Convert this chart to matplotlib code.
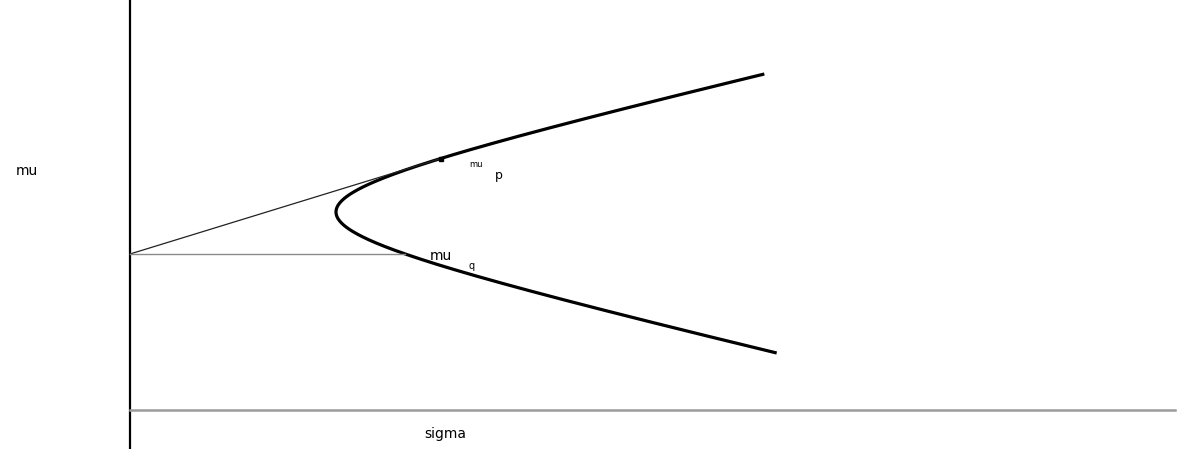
import numpy as np
import matplotlib.pyplot as plt

# minimum-variance frontier parameters: sigma^2 = s_min^2 + k * (mu - mu_min)^2
sigma_min = 2.06
mu_min = 1.98
k = 18.9
mu_top = 3.36
mu_bottom = 0.57

# risk-free rate
mu_f = 1.56

fig = plt.figure(figsize=(11.84, 4.49), dpi=100)
ax = fig.add_axes([0, 0, 1, 1])
ax.set_xlim(-1.30, 10.54)
ax.set_ylim(-0.39, 4.10)
ax.axis('off')

# axes
ax.axvline(0, color='black', lw=1.6)
ax.plot([0, 10.45], [0, 0], color='#9a9a9a', lw=1.8)

# frontier
mu = np.linspace(mu_bottom, mu_top, 400)
sigma = np.sqrt(sigma_min**2 + k * (mu - mu_min)**2)
ax.plot(sigma, mu, color='black', lw=2.3, solid_capstyle='butt')

# tangency portfolio p
mu_p = mu_min + sigma_min**2 / (k * (mu_min - mu_f))
sigma_p = np.sqrt(sigma_min**2 + k * (mu_p - mu_min)**2)
ax.plot([0, sigma_p], [mu_f, mu_p], color='#222222', lw=0.9)
ax.plot(sigma_p, mu_p, 's', color='black', ms=3.5)

# portfolio q on the lower branch at the risk-free level
sigma_q = np.sqrt(sigma_min**2 + k * (mu_f - mu_min)**2)
ax.plot([0, sigma_q], [mu_f, mu_f], color='#8a8a8a', lw=1.0)

ax.text(-1.03, 2.39, 'mu', fontsize=10, ha='center', va='center')
ax.text(3.15, -0.24, 'sigma', fontsize=10, ha='center', va='center')
ax.text(3.46, 2.45, 'mu', fontsize=6, ha='center', va='center')
ax.text(3.69, 2.34, 'p', fontsize=9, ha='center', va='center')
ax.text(3.11, 1.54, 'mu', fontsize=10, ha='center', va='center')
ax.text(3.42, 1.44, 'q', fontsize=7, ha='center', va='center')

fig.savefig('out.png', dpi=100)
